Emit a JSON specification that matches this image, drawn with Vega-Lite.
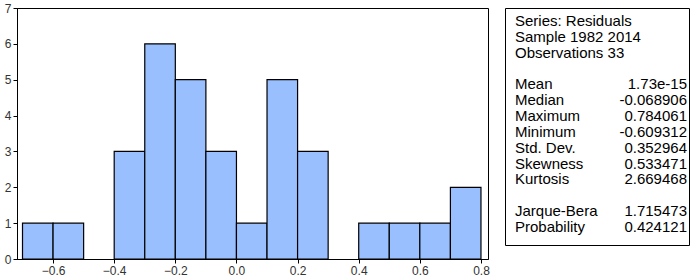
{
  "$schema": "https://vega.github.io/schema/vega-lite/v6.json",
  "padding": {"left": 3, "top": 1, "right": 5, "bottom": 2},
  "background": "white",
  "config": {
    "font": "Liberation Sans",
    "view": {"stroke": "#000000", "strokeWidth": 1},
    "axis": {
      "grid": false,
      "domainColor": "#000000",
      "domainWidth": 1,
      "tickColor": "#000000",
      "tickSize": 4,
      "labelFontSize": 12,
      "labelColor": "#333333",
      "labelPadding": 2,
      "labelFlush": false,
      "title": null
    }
  },
  "datasets": {
    "hist": [
      {"bin_start": -0.7, "bin_end": -0.6, "count": 1},
      {"bin_start": -0.6, "bin_end": -0.5, "count": 1},
      {"bin_start": -0.4, "bin_end": -0.3, "count": 3},
      {"bin_start": -0.3, "bin_end": -0.2, "count": 6},
      {"bin_start": -0.2, "bin_end": -0.1, "count": 5},
      {"bin_start": -0.1, "bin_end": 0.0, "count": 3},
      {"bin_start": 0.0, "bin_end": 0.1, "count": 1},
      {"bin_start": 0.1, "bin_end": 0.2, "count": 5},
      {"bin_start": 0.2, "bin_end": 0.3, "count": 3},
      {"bin_start": 0.4, "bin_end": 0.5, "count": 1},
      {"bin_start": 0.5, "bin_end": 0.6, "count": 1},
      {"bin_start": 0.6, "bin_end": 0.7, "count": 1},
      {"bin_start": 0.7, "bin_end": 0.8, "count": 2}
    ],
    "stats": [
      {"stat": "Series: Residuals", "value": ""},
      {"stat": "Sample 1982 2014", "value": ""},
      {"stat": "Observations 33", "value": ""},
      {"stat": "Mean", "value": "1.73e-15"},
      {"stat": "Median", "value": "-0.068906"},
      {"stat": "Maximum", "value": "0.784061"},
      {"stat": "Minimum", "value": "-0.609312"},
      {"stat": "Std. Dev.", "value": "0.352964"},
      {"stat": "Skewness", "value": "0.533471"},
      {"stat": "Kurtosis", "value": "2.669468"},
      {"stat": "Jarque-Bera", "value": "1.715473"},
      {"stat": "Probability", "value": "0.424121"}
    ]
  },
  "spacing": 14,
  "hconcat": [
    {
      "width": 471,
      "height": 251,
      "data": {"name": "hist"},
      "mark": {"type": "bar", "fill": "#99BFFF", "stroke": "#000000", "strokeWidth": 1.2},
      "encoding": {
        "x": {
          "field": "bin_start",
          "type": "quantitative",
          "scale": {"domain": [-0.718, 0.823], "nice": false, "zero": false},
          "axis": {"values": [-0.6, -0.4, -0.2, 0, 0.2, 0.4, 0.6, 0.8], "format": ".1f"}
        },
        "x2": {"field": "bin_end"},
        "y": {
          "field": "count",
          "type": "quantitative",
          "scale": {"domain": [0, 7], "nice": false, "padding": 0},
          "axis": {"values": [0, 1, 2, 3, 4, 5, 6, 7], "format": "d"}
        },
        "y2": {"datum": 0}
      }
    },
    {
      "width": 184,
      "height": 237,
      "data": {"name": "stats"},
      "encoding": {
        "y": {
          "field": "stat",
          "type": "nominal",
          "scale": {
            "type": "point",
            "padding": 0,
            "domain": ["Series: Residuals", "Sample 1982 2014", "Observations 33", " ", "Mean", "Median", "Maximum", "Minimum", "Std. Dev.", "Skewness", "Kurtosis", "  ", "Jarque-Bera", "Probability"],
            "range": [13, 219]
          },
          "axis": null
        }
      },
      "layer": [
        {
          "mark": {"type": "text", "align": "left", "baseline": "middle", "fontSize": 15, "color": "#000000"},
          "encoding": {
            "x": {"datum": 0, "type": "quantitative", "scale": {"domain": [0, 1], "range": [10, 182]}, "axis": null},
            "text": {"field": "stat"}
          }
        },
        {
          "mark": {"type": "text", "align": "right", "baseline": "middle", "fontSize": 15, "color": "#000000"},
          "encoding": {
            "x": {"datum": 1, "type": "quantitative"},
            "text": {"field": "value"}
          }
        }
      ]
    }
  ]
}
